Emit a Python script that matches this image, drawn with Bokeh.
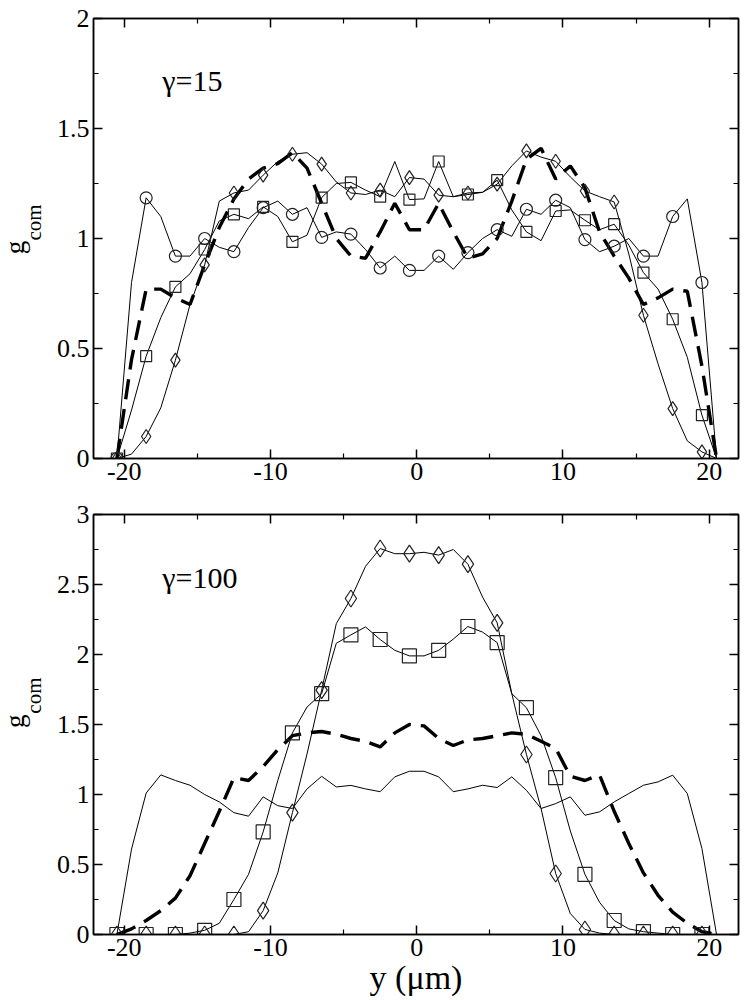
from math import pi
from bokeh.plotting import figure
from bokeh.models import Range1d, FixedTicker, CustomJSTickFormatter, LinearAxis, Label
from bokeh.layouts import column, row
from bokeh.embed import file_html
from bokeh.resources import INLINE

# ---------------- data ----------------
X = [-20.5, -19.5, -18.5, -17.5, -16.5, -15.5, -14.5, -13.5, -12.5, -11.5,
     -10.5, -9.5, -8.5, -7.5, -6.5, -5.5, -4.5, -3.5, -2.5, -1.5, -0.5,
     0.5, 1.5, 2.5, 3.5, 4.5, 5.5, 6.5, 7.5, 8.5, 9.5, 10.5, 11.5, 12.5,
     13.5, 14.5, 15.5, 16.5, 17.5, 18.5, 19.5, 20.5]

# gamma = 15 panel
TOP_CIRCLE = [0.00, 0.80, 1.185, 1.10, 0.92, 0.92, 1.00, 0.96, 0.94, 1.05,
              1.14, 1.17, 1.11, 1.14, 1.005, 1.03, 1.02, 0.95, 0.866, 0.92, 0.855,
              0.855, 0.92, 0.86, 0.936, 1.00, 1.04, 1.01, 1.133, 1.11, 1.174,
              1.14, 0.995, 0.94, 0.965, 1.00, 0.92, 0.92, 1.10, 1.18, 0.80, 0.00]
TOP_SQUARE = [0.00, 0.22, 0.465, 0.64, 0.78, 0.84, 0.95, 1.08, 1.11, 1.09,
              1.144, 1.10, 0.985, 1.015, 1.186, 1.25, 1.255, 1.22, 1.19, 1.35, 1.177,
              1.18, 1.35, 1.19, 1.20, 1.21, 1.265, 1.13, 1.03, 0.99, 1.125,
              1.13, 1.083, 1.04, 1.065, 0.97, 0.845, 0.77, 0.633, 0.46, 0.197, 0.00]
TOP_DIAMOND = [0.00, 0.02, 0.10, 0.23, 0.447, 0.70, 0.88, 1.17, 1.207, 1.22,
               1.288, 1.35, 1.383, 1.39, 1.338, 1.257, 1.207, 1.20, 1.22, 1.19, 1.277,
               1.27, 1.197, 1.19, 1.207, 1.21, 1.247, 1.33, 1.398, 1.37, 1.351,
               1.28, 1.216, 1.19, 1.166, 0.93, 0.651, 0.43, 0.227, 0.08, 0.03, 0.00]
TOP_DASHED = [0.00, 0.45, 0.77, 0.77, 0.73, 0.70, 0.88, 1.05, 1.18, 1.27,
              1.32, 1.34, 1.39, 1.32, 1.16, 1.00, 0.92, 0.91, 1.03, 1.16, 1.04,
              1.04, 1.16, 1.03, 0.91, 0.93, 1.00, 1.17, 1.36, 1.41, 1.27,
              1.33, 1.23, 1.03, 0.92, 0.82, 0.70, 0.73, 0.77, 0.76, 0.42, 0.00]

# gamma = 100 panel
BOT_SOLID = [0.00, 0.61, 1.01, 1.14, 1.10, 1.066, 1.00, 0.947, 0.87, 0.845,
             0.983, 0.92, 0.90, 1.04, 1.13, 1.054, 1.065, 1.04, 1.02, 1.126, 1.166,
             1.166, 1.126, 1.02, 1.04, 1.066, 1.05, 1.126, 1.03, 0.90, 0.935,
             0.983, 0.852, 0.876, 0.947, 1.007, 1.066, 1.09, 1.138, 1.007, 0.614, 0.00]
BOT_SQUARE = [0.00, 0.00, 0.00, 0.00, 0.00, 0.01, 0.03, 0.08, 0.25, 0.43,
              0.733, 1.10, 1.44, 1.625, 1.72, 2.08, 2.14, 2.197, 2.107, 2.03, 1.99,
              1.99, 2.03, 2.11, 2.20, 2.16, 2.085, 1.72, 1.62, 1.42, 1.12,
              0.74, 0.43, 0.23, 0.10, 0.04, 0.02, 0.01, 0.00, 0.00, 0.00, 0.00]
BOT_DIAMOND = [0.00, 0.00, 0.00, 0.00, 0.00, 0.00, 0.00, 0.00, 0.00, 0.02,
               0.17, 0.44, 0.87, 1.29, 1.745, 2.22, 2.40, 2.63, 2.757, 2.72, 2.72,
               2.73, 2.71, 2.75, 2.645, 2.41, 2.226, 1.72, 1.286, 0.90, 0.436,
               0.15, 0.036, 0.01, 0.00, 0.00, 0.00, 0.00, 0.00, 0.00, 0.00, 0.00]
BOT_DASHED = [0.00, 0.04, 0.10, 0.17, 0.26, 0.42, 0.65, 0.88, 1.12, 1.10,
              1.20, 1.32, 1.42, 1.44, 1.45, 1.43, 1.40, 1.38, 1.34, 1.44, 1.50,
              1.49, 1.40, 1.35, 1.39, 1.40, 1.42, 1.44, 1.43, 1.38, 1.33,
              1.13, 1.10, 1.14, 0.88, 0.65, 0.44, 0.28, 0.16, 0.08, 0.02, 0.00]

X_TICKS = [-20, -10, 0, 10, 20]
X_MINOR = [-15, -5, 5, 15]
TOP_Y_TICKS = [0, 0.5, 1, 1.5, 2]
BOT_Y_TICKS = [0, 0.5, 1, 1.5, 2, 2.5, 3]
TOP_Y_MINOR = [0.25, 0.75, 1.25, 1.75]
BOT_Y_MINOR = [0.25, 0.75, 1.25, 1.75, 2.25, 2.75]

TOP_LABEL = "γ=15"
BOT_LABEL = "γ=100"
X_LABEL = "y (μm)"
Y_MAIN = "g"
Y_SUB = "com"

FONT = "Liberation Serif"
MK = "#222222"
DASH = "20 10"
LAB_W = 50


def style_axis(ax, ticks, minor, show_labels):
    ax.ticker = FixedTicker(ticks=ticks, minor_ticks=minor)
    ax.axis_line_color = "black"
    ax.axis_line_width = 1.5
    ax.major_tick_line_color = "black"
    ax.major_tick_line_width = 1.5
    ax.minor_tick_line_color = "black"
    ax.minor_tick_line_width = 1.2
    ax.major_tick_in = 9
    ax.major_tick_out = 0
    ax.minor_tick_in = 5
    ax.minor_tick_out = 0
    if show_labels:
        ax.formatter = CustomJSTickFormatter(code="return String(tick);")
        ax.major_label_text_font = FONT
        ax.major_label_text_font_size = "26px"
        ax.major_label_text_color = "black"
        ax.major_label_standoff = 4
    else:
        ax.formatter = CustomJSTickFormatter(code="return '';")
        ax.major_label_text_font_size = "0px"
        ax.major_label_standoff = 0


def make_panel(height, ymax, yticks, yminor, btop, bbot):
    p = figure(width=692, height=height, x_range=Range1d(-22.1, 22.0),
               y_range=Range1d(0, ymax), output_backend="svg",
               toolbar_location=None, min_border_left=43, min_border_right=4,
               min_border_top=btop, min_border_bottom=bbot)
    p.grid.visible = False
    p.outline_line_color = "black"
    p.outline_line_width = 1.5
    p.background_fill_color = "white"
    p.border_fill_color = "white"
    bottom_ax = p.xaxis[0]
    style_axis(bottom_ax, X_TICKS, X_MINOR, True)
    style_axis(p.yaxis[0], yticks, yminor, True)
    top_ax = LinearAxis()
    right_ax = LinearAxis()
    style_axis(top_ax, X_TICKS, X_MINOR, False)
    style_axis(right_ax, yticks, yminor, False)
    p.add_layout(top_ax, "above")
    p.add_layout(right_ax, "right")
    return p, bottom_ax


def label_strip(height, gy, cy):
    # narrow strip left of a panel that carries the rotated y-axis title g_com
    s = figure(width=LAB_W, height=height, x_range=Range1d(0, LAB_W),
               y_range=Range1d(0, height), output_backend="svg",
               toolbar_location=None, min_border=0)
    s.axis.visible = False
    s.grid.visible = False
    s.outline_line_color = None
    s.background_fill_color = "white"
    s.border_fill_color = "white"
    s.add_layout(Label(x=14, y=gy, text=Y_MAIN, angle=pi / 2, text_font=FONT,
                       text_font_size="27px", text_align="center",
                       text_baseline="middle", text_color="black"))
    s.add_layout(Label(x=33, y=cy, text=Y_SUB, angle=pi / 2, text_font=FONT,
                       text_font_size="21px", text_align="center",
                       text_baseline="middle", text_color="black"))
    return s


XM = X[::2]

# ---------------- top panel ----------------
H1 = 492
p1, ax1 = make_panel(H1, 2, TOP_Y_TICKS, TOP_Y_MINOR, 18, 34)
p1.line(X, TOP_CIRCLE, line_color="black", line_width=1)
p1.line(X, TOP_SQUARE, line_color="black", line_width=1)
p1.line(X, TOP_DIAMOND, line_color="black", line_width=1)
p1.line(X, TOP_DASHED, line_color="black", line_width=3.4, line_dash=DASH)
p1.scatter(XM, TOP_CIRCLE[::2], marker="circle", size=12, fill_color=None,
           line_color=MK, line_width=1.2)
p1.scatter(XM, TOP_SQUARE[::2], marker="square", size=11, fill_color=None,
           line_color=MK, line_width=1.2)
p1.scatter(XM, TOP_DIAMOND[::2], marker="diamond", size=14, fill_color=None,
           line_color=MK, line_width=1.2)
p1.add_layout(Label(x=-17.4, y=1.72, text=TOP_LABEL, text_font=FONT,
                    text_font_size="30px", text_align="left",
                    text_baseline="alphabetic", text_color="black"))
s1 = label_strip(H1, H1 - 256, H1 - 228)

# ---------------- bottom panel ----------------
H2 = 508
p2, ax2 = make_panel(H2, 3, BOT_Y_TICKS, BOT_Y_MINOR, 22, 66)
p2.line(X, BOT_SOLID, line_color="black", line_width=1)
p2.line(X, BOT_SQUARE, line_color="black", line_width=1)
p2.line(X, BOT_DIAMOND, line_color="black", line_width=1)
p2.line(X, BOT_DASHED, line_color="black", line_width=3.4, line_dash=DASH)
p2.scatter(XM, BOT_SQUARE[::2], marker="square", size=14, fill_color=None,
           line_color=MK, line_width=1.2)
p2.scatter(XM, BOT_DIAMOND[::2], marker="diamond", size=17, fill_color=None,
           line_color=MK, line_width=1.2)
p2.add_layout(Label(x=-17.4, y=2.55, text=BOT_LABEL, text_font=FONT,
                    text_font_size="30px", text_align="left",
                    text_baseline="alphabetic", text_color="black"))
ax2.axis_label = X_LABEL
ax2.axis_label_text_font = FONT
ax2.axis_label_text_font_size = "34px"
ax2.axis_label_text_font_style = "normal"
ax2.axis_label_text_color = "black"
ax2.axis_label_standoff = 0
s2 = label_strip(H2, H2 - (742 - H1), H2 - (711 - H1))

layout = column(row(s1, p1, spacing=0), row(s2, p2, spacing=0), spacing=0)
open("out.html", "w").write(file_html(layout, INLINE))
